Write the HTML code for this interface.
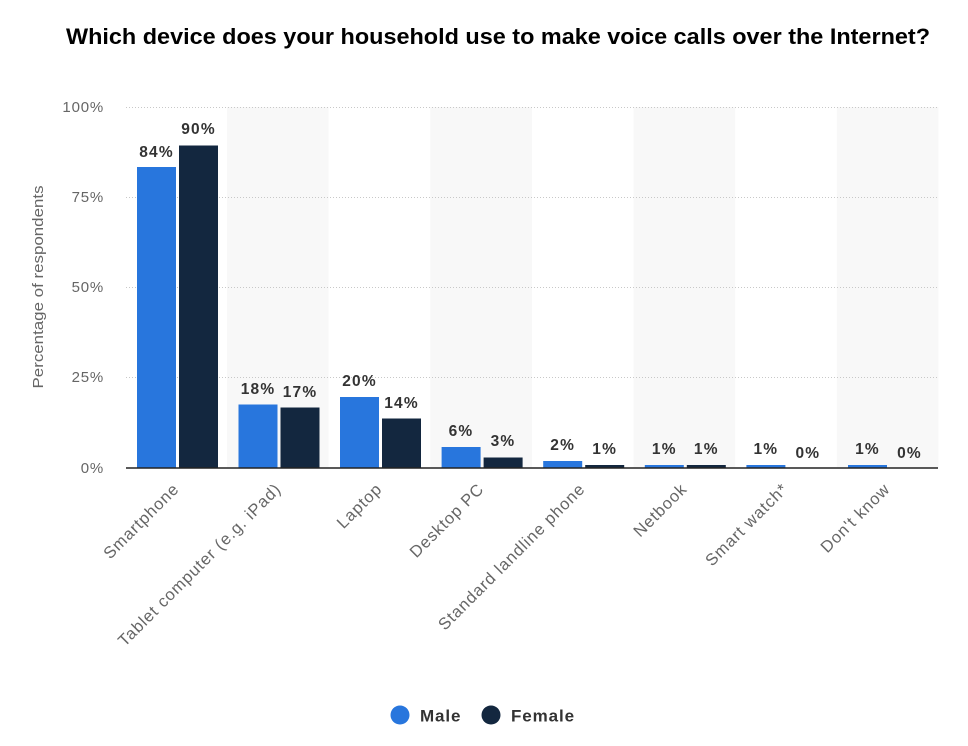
<!DOCTYPE html>
<html><head><meta charset="utf-8"><style>
html,body{margin:0;padding:0;background:#fff;}
svg{display:block;font-family:"Liberation Sans",sans-serif;}
</style></head><body>
<svg width="968" height="746" viewBox="0 0 968 746" xmlns="http://www.w3.org/2000/svg">
<text x="66" y="44" font-size="22" font-weight="bold" fill="#000" textLength="864" lengthAdjust="spacingAndGlyphs">Which device does your household use to make voice calls over the Internet?</text>
<g fill="#f8f8f8">
<rect x="227" y="107" width="101.6" height="361"/>
<rect x="430.3" y="107" width="101.6" height="361"/>
<rect x="633.6" y="107" width="101.6" height="361"/>
<rect x="836.9" y="107" width="101.6" height="361"/>
</g>
<g stroke="#c8c8c8" stroke-width="1" stroke-dasharray="1,2">
<line x1="126" y1="107.5" x2="938" y2="107.5"/>
<line x1="126" y1="197.5" x2="938" y2="197.5"/>
<line x1="126" y1="287.5" x2="938" y2="287.5"/>
<line x1="126" y1="377.5" x2="938" y2="377.5"/>
</g>
<g font-size="15" fill="#666" text-anchor="end" letter-spacing="0.8">
<text x="104" y="112">100%</text>
<text x="104" y="202">75%</text>
<text x="104" y="292">50%</text>
<text x="104" y="382">25%</text>
<text x="104" y="473">0%</text>
</g>
<text transform="translate(43,287) rotate(-90)" font-size="15" fill="#666" text-anchor="middle" textLength="203" lengthAdjust="spacingAndGlyphs">Percentage of respondents</text>
<g fill="#2876dd">
<rect x="137" y="167" width="39" height="301"/>
<rect x="238.5" y="404.5" width="39" height="63.5"/>
<rect x="340" y="397" width="39" height="71"/>
<rect x="441.6" y="447" width="39" height="21"/>
<rect x="543.2" y="461" width="39" height="7"/>
<rect x="644.8" y="465" width="39" height="3"/>
<rect x="746.4" y="465" width="39" height="3"/>
<rect x="848" y="465" width="39" height="3"/>
</g>
<g fill="#13273f">
<rect x="179" y="145.5" width="39" height="322.5"/>
<rect x="280.5" y="407.5" width="39" height="60.5"/>
<rect x="382" y="418.5" width="39" height="49.5"/>
<rect x="483.6" y="457.5" width="39" height="10.5"/>
<rect x="585.2" y="465" width="39" height="3"/>
<rect x="686.8" y="465" width="39" height="3"/>
</g>
<line x1="126" y1="468" x2="938" y2="468" stroke="#222" stroke-width="1.5"/>
<g font-size="15.5" font-weight="bold" fill="#333" text-anchor="middle" letter-spacing="1.2">
<text x="156.5" y="157">84%</text><text x="198.5" y="134">90%</text>
<text x="258" y="394">18%</text><text x="300" y="397">17%</text>
<text x="359.5" y="386">20%</text><text x="401.5" y="408">14%</text>
<text x="461" y="436">6%</text><text x="503" y="446">3%</text>
<text x="562.7" y="450">2%</text><text x="604.7" y="454">1%</text>
<text x="664.3" y="454">1%</text><text x="706.3" y="454">1%</text>
<text x="765.9" y="454">1%</text><text x="807.9" y="458">0%</text>
<text x="867.5" y="454">1%</text><text x="909.5" y="458">0%</text>
</g>
<g font-size="16.5" fill="#666" text-anchor="end" letter-spacing="0.9">
<text transform="translate(180,490) rotate(-45)">Smartphone</text>
<text transform="translate(282,490) rotate(-45)">Tablet computer (e.g. iPad)</text>
<text transform="translate(383,490) rotate(-45)">Laptop</text>
<text transform="translate(485,490) rotate(-45)">Desktop PC</text>
<text transform="translate(586,490) rotate(-45)">Standard landline phone</text>
<text transform="translate(688,490) rotate(-45)">Netbook</text>
<text transform="translate(789,490) rotate(-45)">Smart watch*</text>
<text transform="translate(891,490) rotate(-45)">Don't know</text>
</g>
<circle cx="400" cy="715" r="9.5" fill="#2876dd"/>
<text x="420" y="721.5" font-size="17" font-weight="bold" fill="#333" letter-spacing="0.9">Male</text>
<circle cx="491" cy="715" r="9.5" fill="#13273f"/>
<text x="511" y="721.5" font-size="17" font-weight="bold" fill="#333" letter-spacing="0.9">Female</text>
</svg>
</body></html>
